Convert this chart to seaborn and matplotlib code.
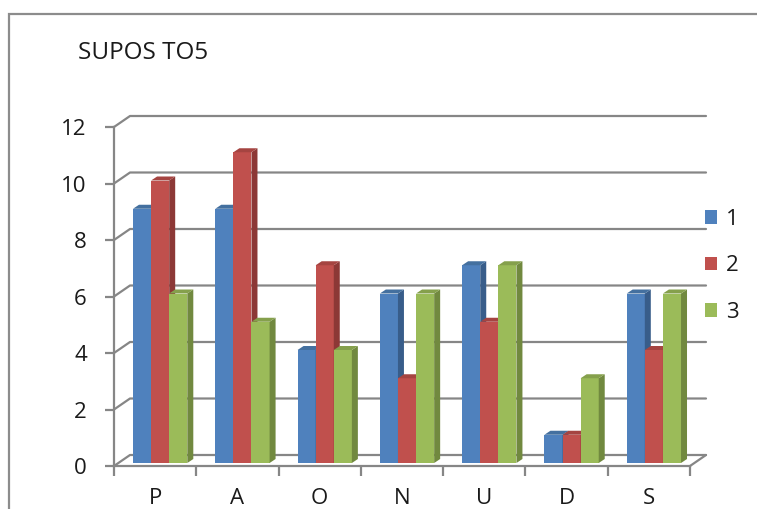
import seaborn as sns
import matplotlib.pyplot as plt
import pandas as pd
from matplotlib.patches import Polygon, Rectangle
from matplotlib.lines import Line2D
from matplotlib.transforms import ScaledTranslation, IdentityTransform

# data
categories = ['P', 'A', 'O', 'N', 'U', 'D', 'S']
series_names = ['1', '2', '3']
serie1 = [9, 9, 4, 6, 7, 1, 6]
serie2 = [10, 11, 7, 3, 5, 1, 4]
serie3 = [6, 5, 4, 6, 7, 3, 6]
y_ticks = [0, 2, 4, 6, 8, 10, 12]
title = 'SUPOS TO5'

colors = ['#4F81BD', '#C0504D', '#9BBB59']
sides = ['#385D8A', '#8C3836', '#71893F']
tops = ['#44709F', '#A54441', '#85A04C']
grid_col = '#868686'
text_col = '#1A1A1A'

df = pd.DataFrame({
    'cat': categories * 3,
    'val': serie1 + serie2 + serie3,
    'serie': [s for s in series_names for _ in categories],
})

sns.set_theme(style='white')
plt.rcParams['font.family'] = ['Open Sans', 'DejaVu Sans']

W, H = 757, 509
fig = plt.figure(figsize=(W / 100, H / 100), dpi=100)
ax = fig.add_axes([114 / W, 1 - 466 / H, (690 - 114) / W, (466 - 127) / H])

sns.barplot(data=df, x='cat', y='val', hue='serie', palette=colors,
            saturation=1, width=0.66, linewidth=0, legend=False, ax=ax)
ax.set_xlim(-0.5, len(categories) - 0.5)
ax.set_ylim(0, 12)

# fake 3d: front shift of bars, depth of bars, depth of back wall (pixels)
front = (5, 3)
depth = (6, 4)
wall = (16, 11)
ident = IdentityTransform()
shift = ax.transData + ScaledTranslation(front[0] / 100, front[1] / 100, fig.dpi_scale_trans)

n = len(categories)
for i, p in enumerate(ax.patches):
    k = i // n
    p.set_transform(shift)
    p.set_zorder(3 + k)
    x0, w, h = p.get_x(), p.get_width(), p.get_height()
    bl = ax.transData.transform((x0, 0)) + front
    tr = ax.transData.transform((x0 + w, h)) + front
    side = [(tr[0], bl[1]), (tr[0], tr[1]), (tr[0] + depth[0], tr[1] + depth[1]),
            (tr[0] + depth[0], bl[1] + depth[1])]
    top = [(bl[0], tr[1]), (tr[0], tr[1]), (tr[0] + depth[0], tr[1] + depth[1]),
           (bl[0] + depth[0], tr[1] + depth[1])]
    ax.add_artist(Polygon(side, closed=True, transform=ident, facecolor=sides[k],
                          edgecolor='none', zorder=3 + k, clip_on=False))
    ax.add_artist(Polygon(top, closed=True, transform=ident, facecolor=tops[k],
                          edgecolor='none', zorder=3 + k, clip_on=False))

# back wall gridlines with the diagonal joints to the value axis
x_left = ax.transData.transform((-0.5, 0))[0]
x_right = ax.transData.transform((n - 0.5, 0))[0]
for t in y_ticks:
    y = ax.transData.transform((0, t))[1]
    ax.add_artist(Line2D([x_left, x_left + wall[0], x_right + wall[0]],
                         [y, y + wall[1], y + wall[1]], transform=ident,
                         color=grid_col, lw=1.6, zorder=1, clip_on=False))
# floor right edge
y0 = ax.transData.transform((0, 0))[1]
ax.add_artist(Line2D([x_right, x_right + wall[0]], [y0, y0 + wall[1]], transform=ident,
                     color=grid_col, lw=1.6, zorder=1, clip_on=False))

for s in ['top', 'right']:
    ax.spines[s].set_visible(False)
for s in ['left', 'bottom']:
    ax.spines[s].set_color(grid_col)
    ax.spines[s].set_linewidth(1.6)
ax.set_facecolor('none')

ax.set_yticks(y_ticks)
ax.set_xticks(range(n))
ax.set_xticklabels(categories)
ax.set_xticks([i - 0.5 for i in range(n + 1)], minor=True)
ax.tick_params(axis='y', direction='out', length=6.5, width=1.6, color=grid_col,
               pad=13, labelsize=16, labelcolor=text_col, left=True)
ax.tick_params(axis='x', which='major', length=0, pad=16, labelsize=16, labelcolor=text_col)
ax.tick_params(axis='x', which='minor', direction='out', length=7, width=1.6,
               color=grid_col, bottom=True)
ax.set_xlabel('')
ax.set_ylabel('')

fig.text(78 / W, 1 - 53 / H, title, ha='left', va='center', fontsize=17.5, color=text_col)

handles = [Rectangle((0, 0), 1, 1, facecolor=c, edgecolor='none') for c in colors]
fig.legend(handles, series_names, loc='center left', bbox_to_anchor=(705 / W, 1 - 266 / H),
           frameon=False, handlelength=0.55, handleheight=0.55, handletextpad=0.4,
           labelspacing=1.15, fontsize=16, borderaxespad=0, borderpad=0,
           labelcolor=text_col)

# outer chart frame, cut by the image edges
fig.add_artist(Rectangle((9 / W, -0.1), 1.2, 1.1 - 14 / H, transform=fig.transFigure,
                         fill=False, edgecolor='#8C8C8C', lw=1.6))

fig.savefig('out.png', dpi=100)
